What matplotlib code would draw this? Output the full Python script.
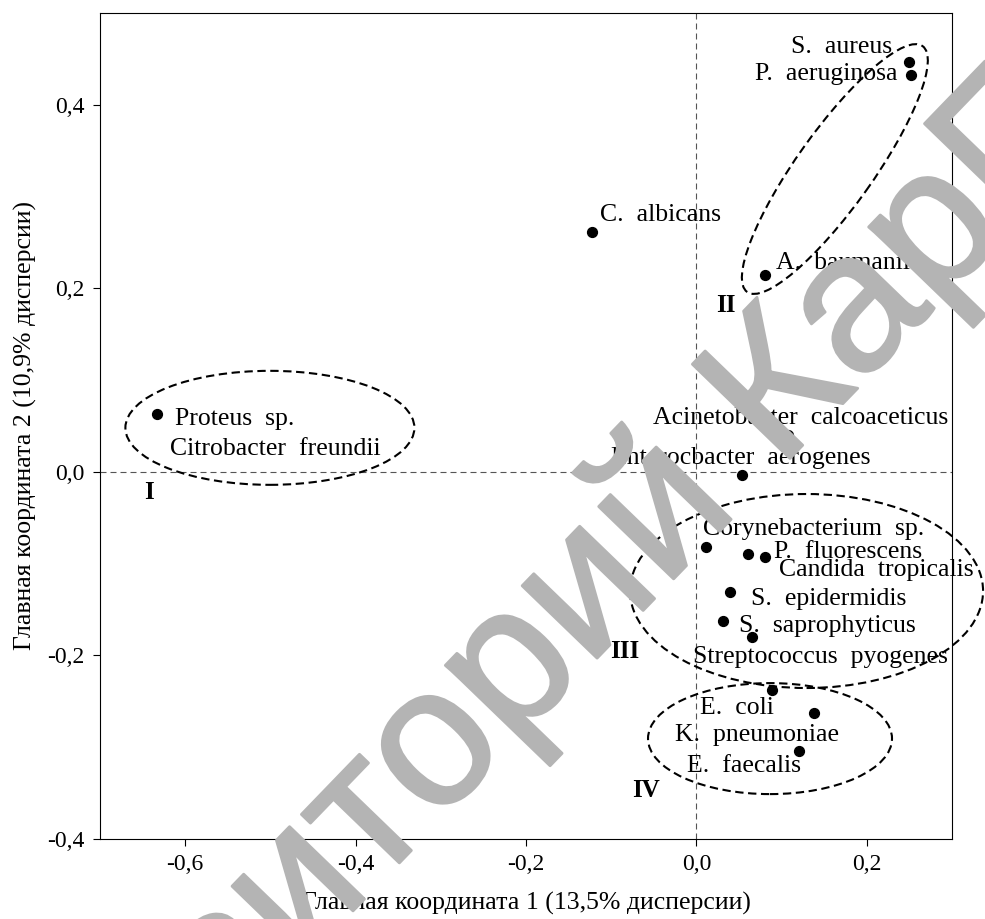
import matplotlib
matplotlib.use('Agg')
import matplotlib.pyplot as plt
import matplotlib.transforms as mtransforms
import matplotlib.patheffects as pe
from matplotlib.patches import Ellipse

plt.rcParams['font.family'] = ['Liberation Serif', 'DejaVu Serif']

# principal coordinates
names = ['S.  aureus', 'P.  aeruginosa', 'C.  albicans', 'A.  baumanii', 'Proteus  sp.',
         'Acinetobacter  calcoaceticus', 'Enterocbacter  aerogenes', 'Corynebacterium  sp.',
         'P.  fluorescens', 'Candida  tropicalis', 'S.  epidermidis', 'S.  saprophyticus',
         'Streptococcus  pyogenes', 'E.  coli', 'K.  pneumoniae', 'E.  faecalis']
pc1 = [0.250, 0.252, -0.123, 0.080, -0.633, 0.107, 0.053, 0.011,
       0.061, 0.081, 0.039, 0.031, 0.065, 0.089, 0.138, 0.120]
pc2 = [0.447, 0.432, 0.261, 0.215, 0.063, 0.040, -0.003, -0.082,
       -0.089, -0.093, -0.131, -0.163, -0.180, -0.238, -0.263, -0.304]
# Citrobacter freundii sits on the same point as Proteus sp.
extra_label = ('Citrobacter  freundii', 4)

# label placement: (ha, dx, dy) in pixels from the point, baseline anchored
label_pos = [('right', -17, 9), ('right', -14, -5), ('left', 8, 11), ('left', 11, 6),
             ('left', 18, -11), ('center', 13, 11), ('center', -1, 11), ('left', -3, 12),
             ('left', 26, -4), ('left', 14, -19), ('left', 21, -13), ('left', 16, -11),
             ('left', -59, -26), ('left', -72, -24), ('right', 25, -28), ('right', 2, -21)]
extra_pos = ('left', 13, -41)

# cluster ellipses: centre (data), width, height (px), angle (deg)
ellipses = [((-0.5006, 0.048), 289, 114, 0),
            ((0.1625, 0.330), 302, 76, 54.5),
            ((0.1293, -0.1298), 353, 194, 0),
            ((0.0864, -0.2906), 244, 111, 0)]
groups = ['I', 'II', 'III', 'IV']
group_xy = [(-0.642, -0.022), (0.0344, 0.181), (-0.0836, -0.196), (-0.059, -0.347)]

fig = plt.figure(figsize=(9.85, 9.19), dpi=100)
ax = fig.add_axes([100/985, 80/919, 852/985, 826/919])
ax.set_xlim(-0.7, 0.3)
ax.set_ylim(-0.4, 0.5)

ax.axhline(0, color='#555555', lw=0.8, ls=(0, (5.4, 3.6)), zorder=1)
ax.axvline(0, color='#555555', lw=0.8, ls=(0, (5.4, 3.6)), zorder=1)

ax.scatter(pc1, pc2, s=50, color='black', zorder=3)

for i, name in enumerate(names):
    ha, dx, dy = label_pos[i]
    ax.annotate(name, (pc1[i], pc2[i]), xytext=(dx, dy), textcoords='offset pixels',
                ha=ha, va='baseline', fontsize=18.5)
ha, dx, dy = extra_pos
ax.annotate(extra_label[0], (pc1[extra_label[1]], pc2[extra_label[1]]), xytext=(dx, dy),
            textcoords='offset pixels', ha=ha, va='baseline', fontsize=18.5)

for g, (gx, gy) in zip(groups, group_xy):
    ax.text(gx, gy, g, ha='center', va='center', fontsize=18, fontweight='bold')

for (cx, cy), w, h, ang in ellipses:
    tr = mtransforms.Affine2D().translate(*ax.transData.transform((cx, cy)))
    ax.add_patch(Ellipse((0, 0), w, h, angle=ang, transform=tr, fill=False,
                         ec='black', lw=1.5, ls=(0, (4, 2.2)), clip_on=False, zorder=2))

ax.set_xticks([-0.6, -0.4, -0.2, 0.0, 0.2])
ax.set_xticklabels(['-0,6', '-0,4', '-0,2', '0,0', '0,2'])
ax.set_yticks([-0.4, -0.2, 0.0, 0.2, 0.4])
ax.set_yticklabels(['-0,4', '-0,2', '0,0', '0,2', '0,4'])
ax.tick_params(direction='out', length=5, width=0.8, labelsize=17, pad=6)
for sp in ax.spines.values():
    sp.set_linewidth(0.8)

ax.set_xlabel('Главная координата 1 (13,5% дисперсии)', fontsize=18.5, labelpad=12)
ax.set_ylabel('Главная координата 2 (10,9% дисперсии)', fontsize=18.5, labelpad=7.5)

# repository watermark
fig.text(548/985, 1 - 709/919, 'Репозиторий КарГУ', family='Liberation Sans',
         fontsize=142, color='#b4b4b4', rotation=46, rotation_mode='anchor',
         ha='center', va='baseline', zorder=10,
         path_effects=[pe.withStroke(linewidth=2, foreground='#b4b4b4')])

fig.savefig('out.png', dpi=100)
